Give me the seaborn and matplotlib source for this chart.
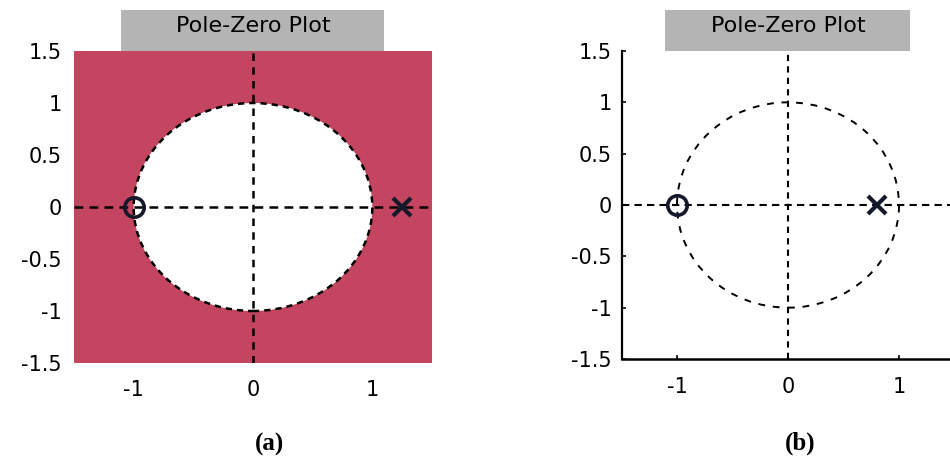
import numpy as np
import pandas as pd
import matplotlib
matplotlib.use("Agg")
import matplotlib.pyplot as plt
from matplotlib.patches import Circle, Rectangle
import seaborn as sns

# ---------------- data ----------------
panel_labels = ["(a)", "(b)"]
panel_title = "Pole-Zero Plot"
zeros_a_re = [-1.0]
zeros_a_im = [0.0]
poles_a_re = [1.25]
poles_a_im = [0.0]
zeros_b_re = [-1.0]
zeros_b_im = [0.0]
poles_b_re = [0.8]
poles_b_im = [0.0]
unit_radius = 1.0
x_ticks = [-1, 0, 1]
x_tick_labels = ["-1", "0", "1"]
y_ticks = [-1.5, -1, -0.5, 0, 0.5, 1, 1.5]
y_tick_labels = ["-1.5", "-1", "-0.5", "0", "0.5", "1", "1.5"]
lim = 1.5

# ---------------- style ----------------
sns.set_style("white")
plt.rcParams["font.family"] = ["DejaVu Sans"]
plt.rcParams["axes.unicode_minus"] = False
plt.rcParams["text.color"] = "black"
plt.rcParams["xtick.color"] = "black"
plt.rcParams["ytick.color"] = "black"
plt.rcParams["xtick.labelcolor"] = "black"
plt.rcParams["ytick.labelcolor"] = "black"

RED = "#C4455F"
GRAY = "#B4B4B4"
INK = "#14182a"

fig = plt.figure(figsize=(9.5, 4.57), dpi=100)
W, H = 950, 457
axA = fig.add_axes([74 / W, (H - 363) / H, 358 / W, 312 / H])
axB = fig.add_axes([621.5 / W, (H - 359) / H, 333 / W, 308 / H])


def decorate(ax, zr, zi, pr, pi, filled, title_y):
    ax.set_xlim(-lim, lim)
    ax.set_ylim(-lim, lim)
    if filled:
        ax.set_facecolor(RED)
        ax.add_patch(Circle((0, 0), unit_radius, facecolor="white",
                            edgecolor="black", lw=1.8,
                            linestyle=(0, (2.5, 2)), zorder=1))
        lw_axis = 1.8
    else:
        ax.set_facecolor("white")
        ax.add_patch(Circle((0, 0), unit_radius, facecolor="none",
                            edgecolor="black", lw=1.4,
                            linestyle=(0, (3.5, 4)), zorder=1))
        lw_axis = 1.5
    ax.axhline(0, color="black", lw=lw_axis, linestyle=(0, (3.5, 2.5)), zorder=2)
    ax.axvline(0, color="black", lw=lw_axis, linestyle=(0, (3, 2.5)), zorder=2)

    dz = pd.DataFrame({"re": zr, "im": zi})
    dp = pd.DataFrame({"re": pr, "im": pi})
    sns.lineplot(data=dz, x="re", y="im", ax=ax, marker="o", linestyle="",
                 markersize=14, markerfacecolor="none", markeredgecolor=INK,
                 markeredgewidth=2.6, zorder=4)
    sns.lineplot(data=dp, x="re", y="im", ax=ax, marker="x", linestyle="",
                 markersize=13, markeredgecolor=INK, color=INK,
                 markeredgewidth=3.0, zorder=4)

    ax.set_xticks(x_ticks)
    ax.set_xticklabels(x_tick_labels)
    ax.set_yticks(y_ticks)
    ax.set_yticklabels(y_tick_labels)
    ax.set_xlabel("")
    ax.set_ylabel("")
    for s in ax.spines.values():
        s.set_visible(False)
    if filled:
        ax.tick_params(axis="both", length=0, labelsize=15, labelcolor="black")
        ax.tick_params(axis="y", pad=9)
        ax.tick_params(axis="x", pad=12)
    else:
        ax.spines["left"].set_visible(True)
        ax.spines["bottom"].set_visible(True)
        ax.spines["left"].set_color("black")
        ax.spines["bottom"].set_color("black")
        ax.spines["left"].set_linewidth(1.6)
        ax.spines["bottom"].set_linewidth(1.8)
        ax.tick_params(axis="both", direction="in", length=3, width=1.2,
                       color="black", labelsize=15, labelcolor="black",
                       left=True, bottom=True)
        ax.tick_params(axis="y", pad=7)
        ax.tick_params(axis="x", pad=13)

    # gray title box
    ax.add_patch(Rectangle((0.13, 1.0), 0.735, 0.132, transform=ax.transAxes,
                           facecolor=GRAY, edgecolor="none", clip_on=False,
                           zorder=5))
    ax.text(0.5, title_y, panel_title, transform=ax.transAxes, ha="center",
            va="baseline", fontsize=16, color="black", zorder=6)
    return ax


decorate(axA, zeros_a_re, zeros_a_im, poles_a_re, poles_a_im, True,
         1 + 19 / 312)
decorate(axB, zeros_b_re, zeros_b_im, poles_b_re, poles_b_im, False,
         1 + 19 / 307)

fig.text(270 / W, 1 - 444 / H, panel_labels[0], ha="center", va="center",
         fontsize=18, fontweight="bold", color="black",
         family=["Liberation Serif", "DejaVu Serif"])
fig.text(800 / W, 1 - 443 / H, panel_labels[1], ha="center", va="center",
         fontsize=18, fontweight="bold", color="black",
         family=["Liberation Serif", "DejaVu Serif"])

fig.savefig("out.png", dpi=100)
